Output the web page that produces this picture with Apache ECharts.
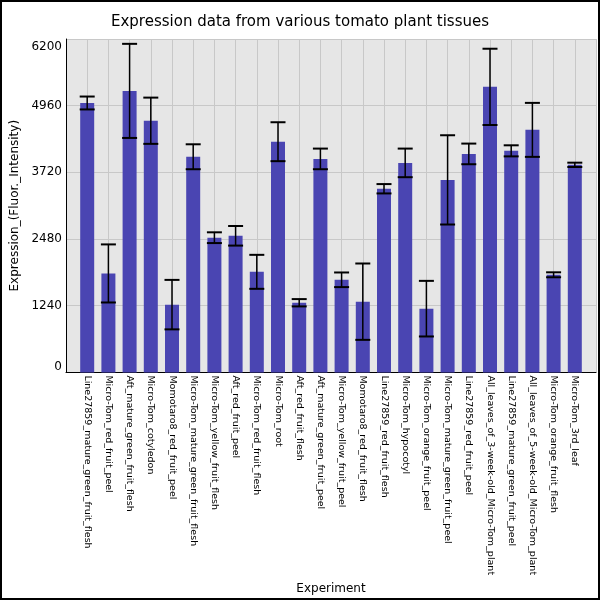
<!DOCTYPE html>
<html>
<head>
<meta charset="utf-8">
<script src="https://cdn.jsdelivr.net/npm/echarts@6/dist/echarts.min.js"></script>
<style>
  html, body { margin: 0; padding: 0; background: #fff; }
  #chart { width: 600px; height: 600px; }
</style>
</head>
<body>
<div id="chart"></div>
<script>
// Expression data
const experiments = [
    'Line27859_mature_green_fruit_flesh', 'Micro-Tom_red_fruit_peel', 'Aft_mature_green_fruit_flesh',
    'Micro-Tom_cotyledon', 'Momotaro8_red_fruit_peel', 'Micro-Tom_mature_green_fruit_flesh',
    'Micro-Tom_yellow_fruit_flesh', 'Aft_red_fruit_peel', 'Micro-Tom_red_fruit_flesh',
    'Micro-Tom_root', 'Aft_red_fruit_flesh', 'Aft_mature_green_fruit_peel',
    'Micro-Tom_yellow_fruit_peel', 'Momotaro8_red_fruit_flesh', 'Line27859_red_fruit_flesh',
    'Micro-Tom_hypocotyl', 'Micro-Tom_orange_fruit_peel', 'Micro-Tom_mature_green_fruit_peel',
    'Line27859_red_fruit_peel', 'All_leaves_of_3-week-old_Micro-Tom_plant', 'Line27859_mature_green_fruit_peel',
    'All_leaves_of_5-week-old_Micro-Tom_plant', 'Micro-Tom_orange_fruit_flesh', 'Micro-Tom_3rd_leaf'
];
const expression = [5010, 1840, 5235, 4680, 1260, 4010, 2505, 2540, 1870, 4290, 1295, 3970,
    1722, 1315, 3415, 3896, 1185, 3580, 4063, 5310, 4120, 4510, 1815, 3860];
const stdError = [120, 540, 875, 430, 460, 232, 100, 182, 316, 362, 68, 192,
    136, 710, 87, 266, 517, 830, 192, 709, 103, 502, 46, 40];
const yTicks = [0, 1240, 2480, 3720, 4960, 6200];

const FONT = 'DejaVu Sans';

// one empty slot on each side so bars sit a full step away from the plot edges
const categories = [''].concat(experiments, ['']);
const barData = [null].concat(expression, [null]);
const errData = expression.map((v, i) => [i + 1, v - stdError[i], v + stdError[i]]);

const chart = echarts.init(document.getElementById('chart'));

const option = {
    animation: false,
    title: {
        text: 'Expression data from various tomato plant tissues',
        left: 'center',
        top: 10,
        textStyle: { fontFamily: FONT, fontSize: 15, fontWeight: 'normal', color: '#000' }
    },
    graphic: [{
        type: 'rect',
        shape: { x: 1, y: 1, width: 598, height: 598 },
        style: { fill: null, stroke: '#000', lineWidth: 2 },
        z: 100
    }],
    grid: {
        left: 66, right: 4, top: 39, bottom: 227,
        show: true,
        backgroundColor: '#e6e6e6',
        borderWidth: 0
    },
    xAxis: {
        type: 'category',
        data: categories,
        boundaryGap: false,
        name: 'Experiment',
        nameLocation: 'middle',
        nameGap: 205,
        nameTextStyle: { fontFamily: FONT, fontSize: 12, color: '#000' },
        axisLine: { lineStyle: { color: '#000', width: 1 } },
        axisTick: { show: false },
        axisLabel: {
            interval: 0,
            rotate: -90,
            margin: 3,
            fontFamily: FONT,
            fontSize: 9.5,
            color: '#000'
        },
        splitLine: { show: true, lineStyle: { color: '#c8c8c8', width: 1 } }
    },
    yAxis: {
        type: 'value',
        min: yTicks[0],
        max: yTicks[yTicks.length - 1],
        interval: yTicks[1] - yTicks[0],
        name: 'Expression_(Fluor._Intensity)',
        nameLocation: 'middle',
        nameGap: 40,
        nameTextStyle: { fontFamily: FONT, fontSize: 12, color: '#000' },
        axisLine: { show: true, lineStyle: { color: '#000', width: 1 } },
        axisTick: { show: false },
        axisLabel: {
            margin: 4,
            fontFamily: FONT,
            fontSize: 12,
            color: '#000',
            formatter: function (v) {
                if (v === yTicks[0]) return '{lo|' + v + '}';
                if (v === yTicks[yTicks.length - 1]) return '{hi|' + v + '}';
                return String(v);
            },
            rich: {
                lo: { fontFamily: FONT, fontSize: 12, color: '#000', padding: [0, 0, 12, 0] },
                hi: { fontFamily: FONT, fontSize: 12, color: '#000', padding: [16, 0, 0, 0] }
            }
        },
        splitLine: { show: true, lineStyle: { color: '#c8c8c8', width: 1 } }
    },
    series: [{
        name: 'Expression',
        type: 'bar',
        data: barData,
        barWidth: 14,
        itemStyle: { color: '#4a45b2' }
    }, {
        name: 'Error',
        type: 'custom',
        data: errData,
        z: 5,
        renderItem: function (params, api) {
            const lo = api.coord([api.value(0), api.value(1)]);
            const hi = api.coord([api.value(0), api.value(2)]);
            const half = 7.5;
            const style = { stroke: '#000', lineWidth: 1.5 };
            const capStyle = { stroke: '#000', lineWidth: 2 };
            return {
                type: 'group',
                children: [
                    { type: 'line', shape: { x1: hi[0], y1: hi[1], x2: lo[0], y2: lo[1] }, style: style },
                    { type: 'line', shape: { x1: hi[0] - half, y1: hi[1], x2: hi[0] + half, y2: hi[1] }, style: capStyle },
                    { type: 'line', shape: { x1: lo[0] - half, y1: lo[1], x2: lo[0] + half, y2: lo[1] }, style: capStyle }
                ]
            };
        }
    }]
};

chart.setOption(option);
</script>
</body>
</html>
